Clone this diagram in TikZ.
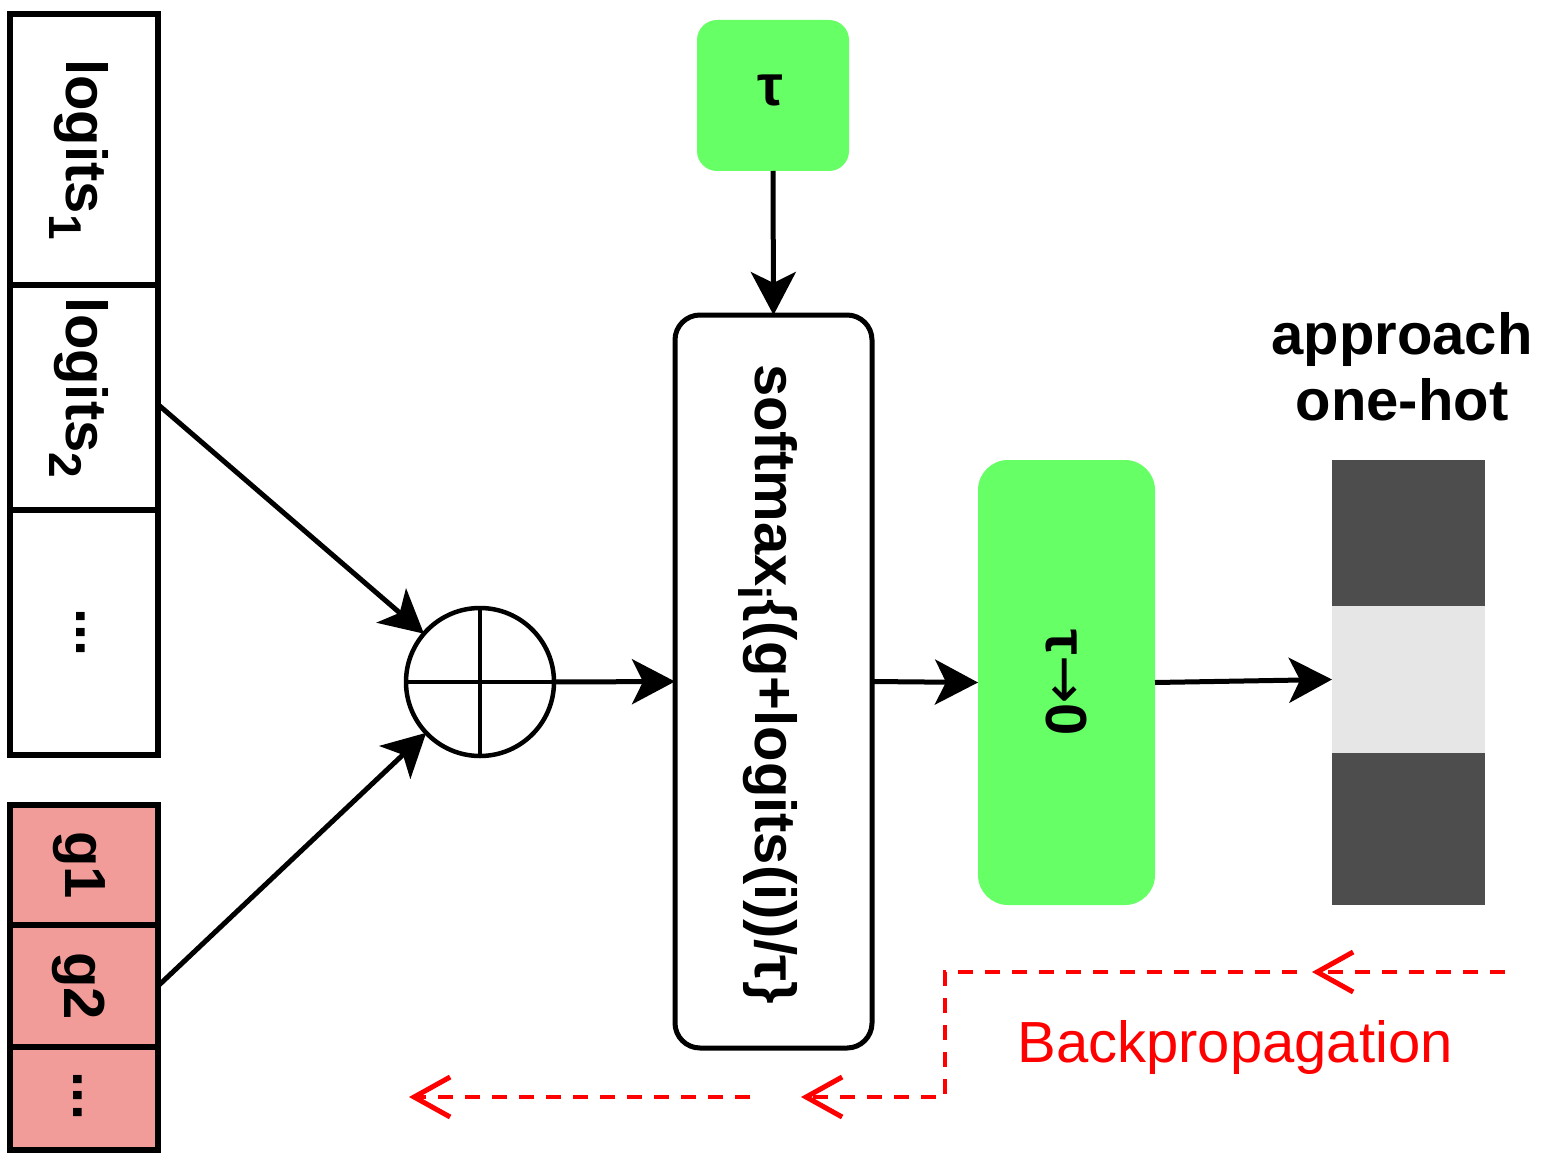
\documentclass[tikz,border=0pt]{standalone}
\usepackage{fontspec}
\setmainfont{Liberation Sans}
\newfontfamily\dvsfont{DejaVu Sans}
\usetikzlibrary{arrows.meta,calc}
\definecolor{gbox}{HTML}{66FF66}
\definecolor{pinkc}{HTML}{F19C99}
\definecolor{darkc}{HTML}{4D4D4D}
\definecolor{lightc}{HTML}{E6E6E6}
\definecolor{redc}{HTML}{FF0000}
\newcommand\mysubs[1]{\raisebox{-0.3em}{\fontsize{46}{46}\selectfont #1}}
\begin{document}
\begin{tikzpicture}[x=1pt,y=-1pt,
  every node/.style={inner sep=0pt,outer sep=0pt},
  big/.style={font=\fontsize{58}{66}\selectfont\bfseries},
  cell/.style={draw=black,line width=5.5pt,minimum width=148pt},
  pcell/.style={cell,fill=pinkc},
  rbox/.style={draw=black,line width=5pt,rounded corners=25pt},
  gnode/.style={fill=gbox,big},
  arr/.style={line width=5pt,-{Stealth[length=43pt,width=45pt,inset=11pt]}},
  bp/.style={draw=redc,line width=4.5pt,dash pattern=on 15pt off 12pt},
  bparr/.style={bp,-{Straight Barb[length=36pt,width=40pt,line width=5pt]}}
]
\useasboundingbox (0,0) rectangle (1546,1166);

% logits column
\node[cell,minimum height=271pt] (l1) at (84,149.5) {};
\node[cell,minimum height=225pt] (l2) at (84,397.5) {};
\node[cell,minimum height=245pt] (l3) at (84,632.5) {};
\node[big] (l1t) at (79,149.5) {\rotatebox{-90}{logits\mysubs{1}}};
\node[big] (l2t) at (79,388) {\rotatebox{-90}{logits\mysubs{2}}};
\node[big] (l3t) at (81,632.5) {\rotatebox{-90}{...}};

% g column
\node[pcell,minimum height=120pt] (g1) at (84,865) {};
\node[pcell,minimum height=122pt] (g2) at (84,986) {};
\node[pcell,minimum height=103pt] (g3) at (84,1098.5) {};
\node[big] (g1t) at (79,865) {\rotatebox{-90}{g1}};
\node[big] (g2t) at (79,986) {\rotatebox{-90}{g2}};
\node[big] (g3t) at (78,1096) {\rotatebox{-90}{...}};

% plus circle
\node[circle,draw=black,line width=4.5pt,minimum size=148pt] (plus) at (480,682) {};
\draw[line width=4.5pt] (plus.north) -- (plus.south);
\draw[line width=4.5pt] (plus.west) -- (plus.east);

% softmax box
\node[rbox,minimum width=197pt,minimum height=733pt] (soft) at (773.5,681.5) {};
\node[big] (softtxt) at (768,684) {\rotatebox{-90}{softmax\mysubs{i}\{(g+logits(i))/τ\}}};

% tau box
\node[gnode,rounded corners=20pt,minimum width=152pt,minimum height=151pt] (tau) at (773,95.5) {};
\node[big] (tautxt) at (770,90) {τ};

% tau -> 0 box
\node[gnode,rounded corners=30pt,minimum width=177pt,minimum height=445pt] (tz) at (1066.5,682.5)
  {\rotatebox{-90}{τ{\dvsfont\mdseries →}0}};

% one-hot bar
\node[fill=darkc,minimum width=153pt,minimum height=146pt] (oh1) at (1408.5,533) {};
\node[fill=lightc,minimum width=153pt,minimum height=147pt] (oh2) at (1408.5,679.5) {};
\node[fill=darkc,minimum width=153pt,minimum height=152pt] (oh3) at (1408.5,829) {};
\node[big,align=center] (appr) at (1402,367) {approach\\one-hot};

% connectors
\draw[arr] ([yshift=-7pt]l2.east) -- (plus);
\draw[arr] (g2.east) -- (plus);
\draw[arr] (plus.east) -- (soft.west);
\draw[arr] (tau.south) -- (soft.north);
\draw[arr] (soft.east) -- (tz.west);
\draw[arr] (tz.east) -- (oh2.west);

% backpropagation
\coordinate (bpA) at (1505,972);
\coordinate (bpB) at (1312,972);
\coordinate (bpC) at (1297,972);
\coordinate (bpD) at (945,972);
\coordinate (bpE) at (945,1097);
\coordinate (bpF) at (801,1097);
\coordinate (bpG) at (750,1097);
\coordinate (bpH) at (409,1097);
\draw[bparr] (bpA) -- (bpB);
\draw[bparr] (bpC) -- (bpD) -- (bpE) -- (bpF);
\draw[bparr] (bpG) -- (bpH);
\node[font=\fontsize{58}{66}\selectfont,text=redc] (bptxt) at (1235,1047) {Backpropagation};
\end{tikzpicture}
\end{document}
